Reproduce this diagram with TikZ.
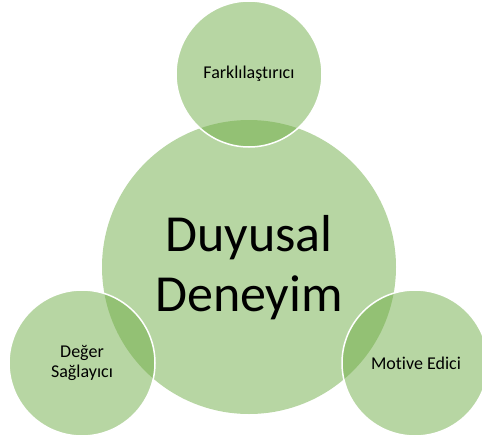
\documentclass[tikz,border=0pt]{standalone}
\usepackage{fontspec}
\setmainfont{Carlito}[Ligatures={NoCommon}]
\definecolor{leaf}{HTML}{70AD47}
\begin{document}
\begin{tikzpicture}[x=1pt,y=-1pt,
  bigcircle/.style={circle, fill=leaf, fill opacity=0.5, minimum size=294pt, inner sep=0pt},
  smallcircle/.style={circle, fill=leaf, fill opacity=0.5, draw=white, draw opacity=1, line width=1.5pt, minimum size=146pt, inner sep=0pt},
  bigtext/.style={font=\fontsize{52}{60}\selectfont, align=center, text=black},
  smalltext/.style={font=\fontsize{18}{20}\selectfont, align=center, text=black}]
\useasboundingbox (0,0) rectangle (482,442);
\node[bigcircle] (main) at (249,267) {};
\node[smallcircle] (top) at (249,74) {};
\node[smallcircle] (left) at (82,363) {};
\node[smallcircle] (right) at (415,363) {};
\node[bigtext] (maintext) at (249,268) {Duyusal\\Deneyim};
\node[smalltext] (toptext) at (249,74) {Farklılaştırıcı};
\node[smalltext] (lefttext) at (82,363) {Değer\\Sağlayıcı};
\node[smalltext] (righttext) at (416,363) {Motive Edici};
\end{tikzpicture}
\end{document}
